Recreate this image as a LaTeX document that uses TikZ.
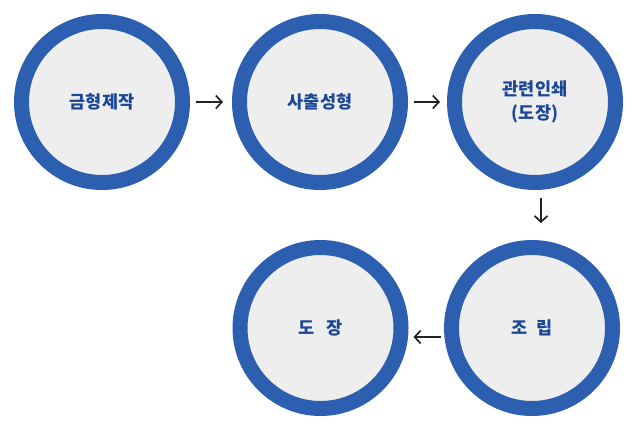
\documentclass[tikz,border=0pt]{standalone}
\usepackage{fontspec}
\newfontfamily\kr{Noto Sans CJK KR}
\usetikzlibrary{arrows.meta}
\definecolor{ringblue}{HTML}{2D5FB0}
\definecolor{innergray}{HTML}{EEEEEE}
\definecolor{txtblue}{HTML}{1C4796}
\definecolor{arrowgray}{HTML}{222222}
\begin{document}
\begin{tikzpicture}[x=1pt,y=-1pt,
  stage/.style={circle, draw=ringblue, fill=innergray, line width=15pt,
    minimum size=161pt, inner sep=0pt, text=txtblue,
    font=\kr\bfseries\fontsize{17.5}{25}\selectfont, align=center},
  flow/.style={draw=arrowgray, line width=1.7pt,
    -{Straight Barb[length=6pt,width=13pt,line width=1.7pt]}}]
\useasboundingbox (0,0) rectangle (639,426);
\node[stage] (c1) at (102,102) {\raisebox{-2pt}{금형제작}};
\node[stage] (c2) at (320,102) {\raisebox{-2pt}{사출성형}};
\node[stage] (c3) at (535,102) {\raisebox{-6pt}{\begin{tabular}{@{}c@{}}관련인쇄\\[-1pt](도장)\end{tabular}}};
\node[stage] (c4) at (532,328) {\raisebox{-2pt}{조\hspace{0.55em}립}};
\node[stage] (c5) at (320.5,328) {\raisebox{-2pt}{도\hspace{0.7em}장}};
\draw[flow] ([xshift=6pt]c1.east) -- ([xshift=-9pt]c2.west);
\draw[flow] ([xshift=6pt]c2.east) -- ([xshift=-7pt]c3.west);
\draw[flow] ([shift={(6,8)}]c3.south) -- ([shift={(6,33)}]c3.south);
\draw[flow] ([shift={(-3,9)}]c4.west) -- ([shift={(5,9)}]c5.east);
\end{tikzpicture}
\end{document}
